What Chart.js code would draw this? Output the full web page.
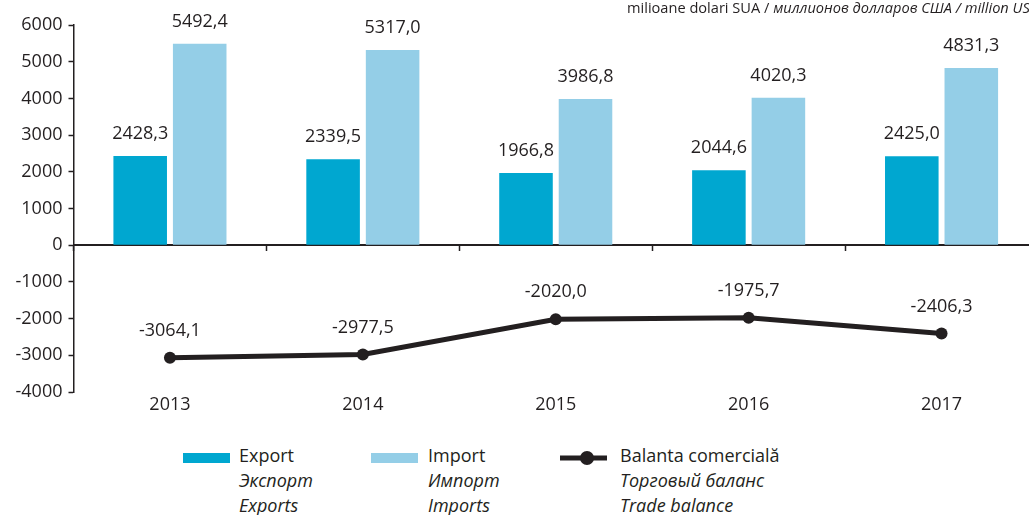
<!DOCTYPE html>
<html>
<head>
<meta charset="utf-8">
<script src="https://cdn.jsdelivr.net/npm/chart.js@4.4.1/dist/chart.umd.min.js"></script>
<style>
  html, body { margin: 0; padding: 0; background: #fff; overflow: hidden; width: 1029px; height: 515px; }
  body { position: relative; font-family: "Open Sans", sans-serif; color: #231f20; }
  #wrap { position: absolute; left: 0; top: 0; width: 1044px; height: 420px; }
  .unit { position: absolute; left: 627px; top: -3px; font-size: 14.6px; white-space: nowrap; }
  .legend { position: absolute; top: 443px; left: 0; font-size: 18px; line-height: 25px; }
  .item { position: absolute; top: 0; white-space: nowrap; }
  .item .sw { position: absolute; top: 10px; width: 47px; height: 10px; }
  .item .txt { position: absolute; top: 0; }
  .item i { font-style: italic; }
</style>
</head>
<body>
<div id="wrap"><canvas id="c" width="1044" height="420"></canvas></div>
<div class="unit">milioane dolari SUA / <i>миллионов долларов США / million USD</i></div>
<div class="legend">
  <div class="item" style="left:183px">
    <span class="sw" style="left:0;background:#00a7d0"></span>
    <span class="txt" style="left:56px">Export<br><i>Экспорт</i><br><i>Exports</i></span>
  </div>
  <div class="item" style="left:371px">
    <span class="sw" style="left:0;background:#94cee7"></span>
    <span class="txt" style="left:57px">Import<br><i>Импорт</i><br><i>Imports</i></span>
  </div>
  <div class="item" style="left:560px">
    <canvas id="lg" width="50" height="24" style="position:absolute;left:0;top:3px"></canvas>
    <span class="txt" style="left:60px">Balanta comercială<br><i>Торговый баланс</i><br><i>Trade balance</i></span>
  </div>
</div>
<script>
// Trade figures, million USD
const years = ["2013", "2014", "2015", "2016", "2017"];
const exportVals = [2428.3, 2339.5, 1966.8, 2044.6, 2425.0];
const importVals = [5492.4, 5317.0, 3986.8, 4020.3, 4831.3];
const balanceVals = [-3064.1, -2977.5, -2020.0, -1975.7, -2406.3];

const INK = "#231f20";
const FONT = "Open Sans";

function fmt(v) {
  return v.toFixed(1).replace(".", ",");
}

// value labels above every bar / point
const valueLabels = {
  id: "valueLabels",
  afterDatasetsDraw(chart) {
    const { ctx } = chart;
    ctx.save();
    ctx.font = `18px "${FONT}"`;
    ctx.fillStyle = INK;
    ctx.textAlign = "center";
    ctx.textBaseline = "middle";
    chart.data.datasets.forEach((ds, i) => {
      const meta = chart.getDatasetMeta(i);
      const off = ds.type === "line" ? 27 : 22;
      meta.data.forEach((el, j) => {
        ctx.fillText(fmt(ds.data[j]), el.x, el.y - off);
      });
    });
    ctx.restore();
  }
};

new Chart(document.getElementById("c"), {
  type: "bar",
  data: {
    labels: years,
    datasets: [
      {
        label: "Balanta comercială",
        type: "line",
        data: balanceVals,
        borderColor: INK,
        backgroundColor: INK,
        borderWidth: 5,
        pointRadius: 6,
        pointBackgroundColor: INK,
        pointBorderWidth: 0,
        tension: 0,
        order: 0
      },
      {
        label: "Export",
        data: exportVals,
        backgroundColor: "#00a7d0",
        categoryPercentage: 0.617,
        barPercentage: 0.9,
        order: 1
      },
      {
        label: "Import",
        data: importVals,
        backgroundColor: "#94cee7",
        categoryPercentage: 0.617,
        barPercentage: 0.9,
        order: 1
      }
    ]
  },
  options: {
    responsive: false,
    animation: false,
    layout: { padding: { top: 25, right: 0, bottom: 0, left: 1.5 } },
    plugins: { legend: { display: false }, tooltip: { enabled: false } },
    scales: {
      x: {
        grid: { display: false },
        border: { display: false },
        ticks: { color: INK, font: { family: FONT, size: 18 }, padding: -6 },
        afterFit(s) { s.height = 28; }
      },
      x2: {
        type: "category",
        labels: years,
        position: { y: 0 },
        offset: true,
        grid: { drawOnChartArea: false, tickLength: 5, color: INK, tickWidth: 1.5 },
        border: { display: true, color: INK, width: 2 },
        ticks: { display: false }
      },
      y: {
        min: -4000,
        max: 6000,
        ticks: {
          stepSize: 1000,
          color: INK,
          font: { family: FONT, size: 18 },
          padding: 6,
          callback: (v) => String(v)
        },
        grid: { drawOnChartArea: false, tickLength: 5, tickColor: INK, tickWidth: 1.5 },
        border: { display: true, color: INK, width: 1.5 },
        afterFit(s) { s.width = 72; }
      }
    }
  },
  plugins: [valueLabels]
});

// legend line sample
const lg = document.getElementById("lg").getContext("2d");
lg.strokeStyle = INK;
lg.lineWidth = 5;
lg.beginPath(); lg.moveTo(0, 12); lg.lineTo(47, 12); lg.stroke();
lg.fillStyle = INK;
lg.beginPath(); lg.arc(27, 12, 7, 0, Math.PI * 2); lg.fill();
</script>
</body>
</html>
